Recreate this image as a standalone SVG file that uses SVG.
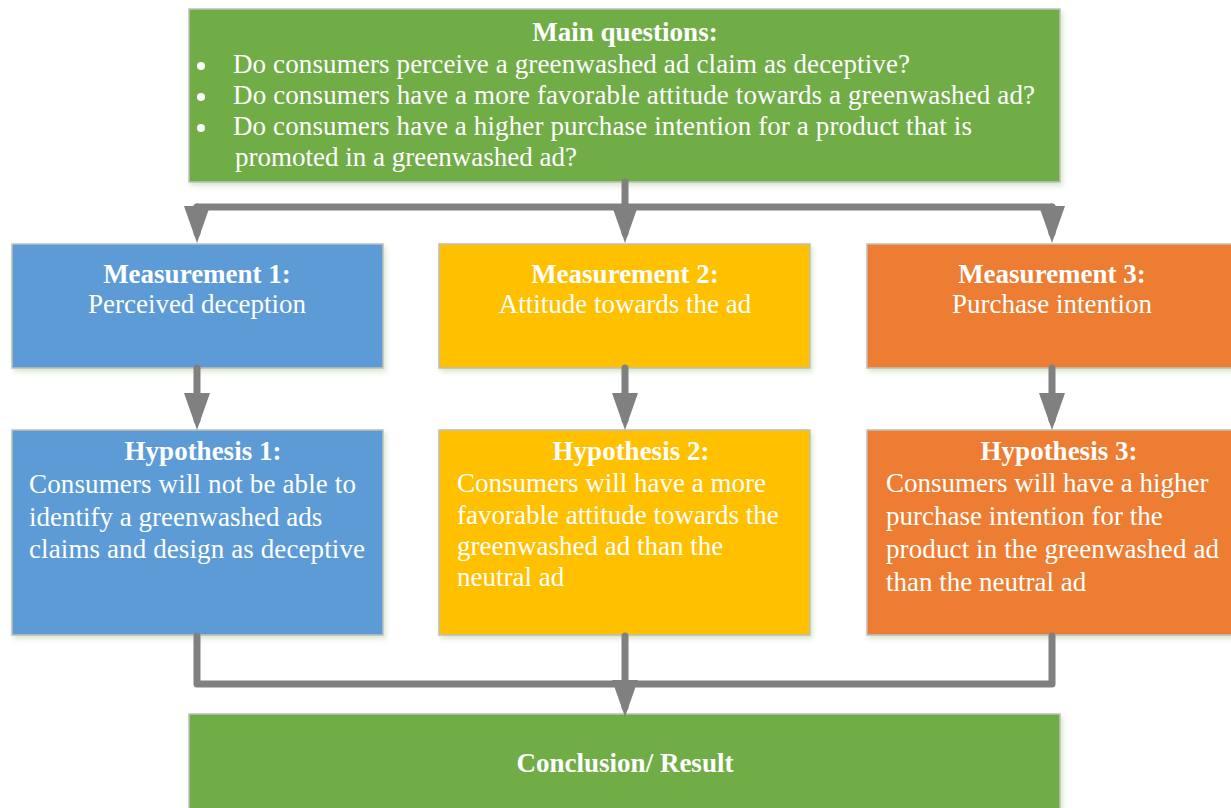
<svg xmlns="http://www.w3.org/2000/svg" width="1231" height="808" viewBox="0 0 1231 808">
<style>
  .box { stroke: #BFBFBF; stroke-width: 1.5; filter: url(#shadow); }
  .green { fill: #70AD47; }
  .blue { fill: #5B9BD5; }
  .yellow { fill: #FFC000; }
  .orange { fill: #ED7D31; }
  .bullet { fill: #FFFFFF; }
  text { font-family: "Liberation Serif", "Times New Roman", serif; font-size: 27px; fill: #FFFFFF; }
  .b { font-weight: bold; }
  .c { text-anchor: middle; }
  .conn { fill: none; stroke: #808080; stroke-width: 7; stroke-linecap: round; stroke-linejoin: round; }
</style>
<defs>
  <filter id="shadow" x="-5%" y="-5%" width="115%" height="120%">
    <feDropShadow dx="2" dy="3" stdDeviation="2.5" flood-color="#A9C98F" flood-opacity="0.45"/>
  </filter>
  <marker id="arr" markerUnits="userSpaceOnUse" markerWidth="38" markerHeight="26" viewBox="0 0 38 26" refX="27" refY="13" orient="auto">
    <path d="M0,0 L37,13 L0,26 Z" fill="#808080"/>
  </marker>
</defs>

<g id="main-questions">
  <rect class="box green" x="189" y="9" width="871" height="173"/>
  <text class="b c" x="625" y="41">Main questions:</text>
  <circle class="bullet" cx="201" cy="66" r="4"/>
  <text x="233" y="73" textLength="677" lengthAdjust="spacing">Do consumers perceive a greenwashed ad claim as deceptive?</text>
  <circle class="bullet" cx="201" cy="97" r="4"/>
  <text x="233" y="104" textLength="802" lengthAdjust="spacing">Do consumers have a more favorable attitude towards a greenwashed ad?</text>
  <circle class="bullet" cx="201" cy="128" r="4"/>
  <text x="233" y="135" textLength="739" lengthAdjust="spacing">Do consumers have a higher purchase intention for a product that is</text>
  <text x="235" y="166">promoted in a greenwashed ad?</text>
</g>

<g id="measurement-1">
  <rect class="box blue" x="12" y="244" width="371" height="124"/>
  <text class="b c" x="197" y="283">Measurement 1:</text>
  <text class="c" x="197" y="313">Perceived deception</text>
</g>
<g id="measurement-2">
  <rect class="box yellow" x="439" y="244" width="371" height="124"/>
  <text class="b c" x="625" y="283">Measurement 2:</text>
  <text class="c" x="625" y="313">Attitude towards the ad</text>
</g>
<g id="measurement-3">
  <rect class="box orange" x="867" y="244" width="372" height="124"/>
  <text class="b c" x="1052" y="283">Measurement 3:</text>
  <text class="c" x="1052" y="313">Purchase intention</text>
</g>

<g id="hypothesis-1">
  <rect class="box blue" x="12" y="430" width="371" height="205"/>
  <text class="b c" x="203" y="460">Hypothesis 1:</text>
  <text x="29" y="493" textLength="327" lengthAdjust="spacing">Consumers will not be able to</text>
  <text x="29" y="526">identify a greenwashed ads</text>
  <text x="29" y="558" textLength="336" lengthAdjust="spacing">claims and design as deceptive</text>
</g>
<g id="hypothesis-2">
  <rect class="box yellow" x="439" y="430" width="371" height="205"/>
  <text class="b c" x="631" y="460">Hypothesis 2:</text>
  <text x="457" y="492">Consumers will have a more</text>
  <text x="457" y="524">favorable attitude towards the</text>
  <text x="457" y="555">greenwashed ad than the</text>
  <text x="457" y="586">neutral ad</text>
</g>
<g id="hypothesis-3">
  <rect class="box orange" x="867" y="430" width="372" height="205"/>
  <text class="b c" x="1059" y="460">Hypothesis 3:</text>
  <text x="886" y="492">Consumers will have a higher</text>
  <text x="886" y="525">purchase intention for the</text>
  <text x="886" y="558" textLength="333" lengthAdjust="spacing">product in the greenwashed ad</text>
  <text x="886" y="591">than the neutral ad</text>
</g>

<g id="conclusion">
  <rect class="box green" x="189" y="714" width="871" height="100"/>
  <text class="b c" x="625" y="772">Conclusion/ Result</text>
</g>

<g id="connectors">
  <path class="conn" d="M625,182 V207"/>
  <path class="conn" d="M197,207 H1052"/>
  <path class="conn" d="M197,207 V233" marker-end="url(#arr)"/>
  <path class="conn" d="M625,207 V233" marker-end="url(#arr)"/>
  <path class="conn" d="M1052,207 V233" marker-end="url(#arr)"/>
  <path class="conn" d="M197,368 V420" marker-end="url(#arr)"/>
  <path class="conn" d="M625,368 V420" marker-end="url(#arr)"/>
  <path class="conn" d="M1052,368 V420" marker-end="url(#arr)"/>
  <path class="conn" d="M197,636 V684 H1052 V636"/>
  <path class="conn" d="M625,636 V707" marker-end="url(#arr)"/>
</g>
</svg>
